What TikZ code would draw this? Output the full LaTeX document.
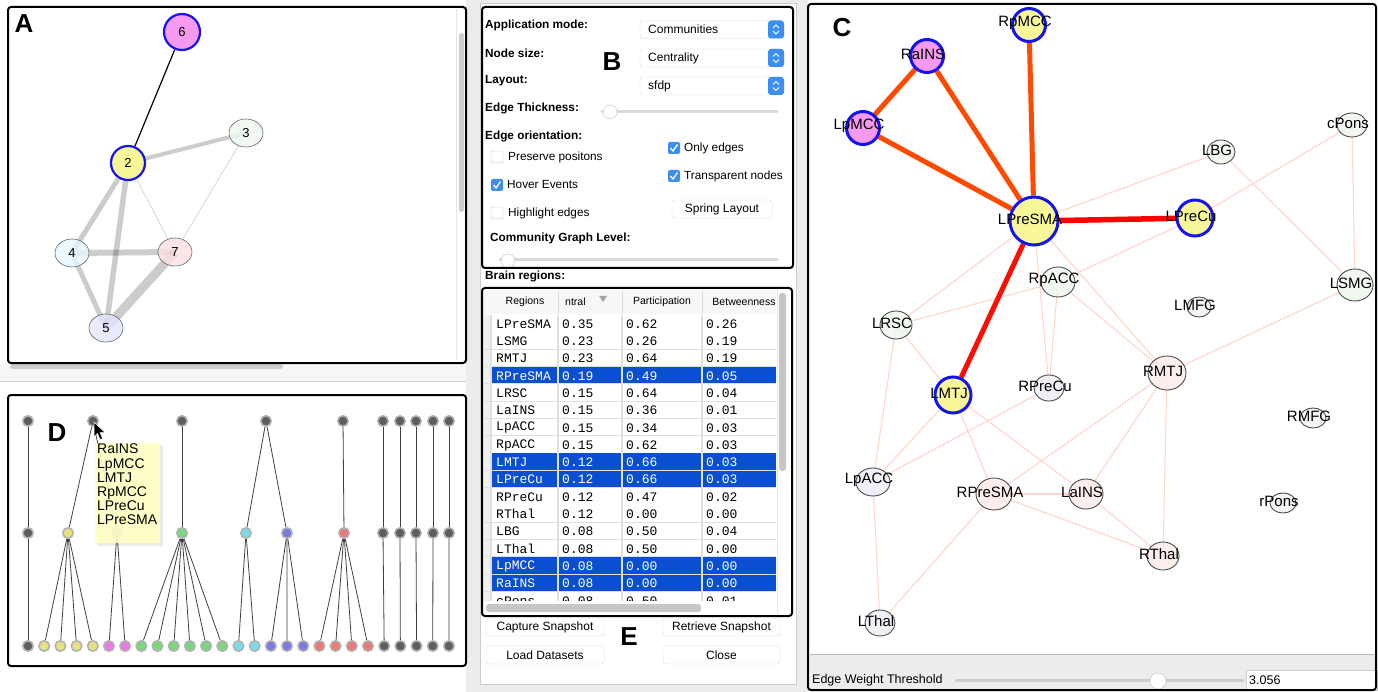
\documentclass[tikz,border=0pt]{standalone}
\usepackage{fontspec}
\setmainfont{Liberation Sans}
\newfontfamily\tablefont{Liberation Mono}
\usetikzlibrary{shapes.geometric,backgrounds}
\pgfdeclarelayer{edges}
\pgfsetlayers{background,edges,main}

\definecolor{panelgray}{HTML}{ECECEC}
\definecolor{selblue}{HTML}{0B4FD1}
\definecolor{uiblue}{HTML}{3C8EF0}
\definecolor{nodeblue}{HTML}{1414F0}
\definecolor{hlyellow}{HTML}{F7F79A}
\definecolor{hlpink}{HTML}{F59AF0}
\definecolor{weakedge}{HTML}{FFD6CC}
\definecolor{strongedge}{HTML}{FF4A00}
\definecolor{tipyellow}{HTML}{FFFFC4}
\definecolor{tintgreen}{HTML}{EEF7EE}
\definecolor{tintpink}{HTML}{FBECEA}
\definecolor{tintblue}{HTML}{EEEEF8}
\definecolor{tintgray}{HTML}{F2F2F2}
\definecolor{dgray}{HTML}{5E5E5E}
\definecolor{dyellow}{HTML}{E8E27A}
\definecolor{dpink}{HTML}{E77AE6}
\definecolor{dgreen}{HTML}{7AD77A}
\definecolor{dcyan}{HTML}{7ADDE6}
\definecolor{dblue}{HTML}{7A7AE6}
\definecolor{dred}{HTML}{E87A7A}

\tikzset{
  panel/.style={draw=black, line width=2pt, rounded corners=3pt},
  bigletter/.style={font=\fontsize{26}{26}\selectfont\bfseries, inner sep=0},
  lbl/.style={font=\fontsize{11.8}{13}\selectfont\bfseries, anchor=west, inner sep=0},
  opt/.style={font=\fontsize{11.8}{13}\selectfont, anchor=west, inner sep=0},
  btn/.style={draw=gray!30, fill=white, rounded corners=3pt, inner sep=0,
    minimum height=18pt, font=\fontsize{12}{14}\selectfont},
  knob/.style={circle, draw=gray!50, fill=white, minimum size=14pt, inner sep=0},
  hdr/.style={font=\fontsize{10.5}{12}\selectfont, inner sep=0},
  cell/.style={font=\tablefont\fontsize{13}{13}\selectfont, anchor=west, inner sep=0},
  anode/.style={ellipse, draw=black!60, line width=0.6pt, minimum width=34pt,
    minimum height=28pt, inner sep=0, fill opacity=0.8, text opacity=1,
    font=\fontsize{13}{13}\selectfont},
  hlnode/.style={circle, draw=nodeblue, line width=2.2pt, inner sep=0,
    font=\fontsize{13}{13}\selectfont},
  aedge/.style={draw=black, draw opacity=0.2},
  dnode/.style={circle, draw=gray!60, line width=1.6pt, minimum size=10.5pt, inner sep=0},
  region/.style={ellipse, draw=black!70, line width=0.9pt, inner sep=0, fill opacity=0.85},
  hub/.style={circle, draw=nodeblue, line width=3pt, inner sep=0},
  clabel/.style={font=\fontsize{15}{15}\selectfont, inner sep=0, text opacity=1,
    xshift=-4pt, yshift=2pt},
  weak/.style={draw=weakedge, line width=1.1pt},
  strong/.style={draw=strongedge, line width=5pt}
}

\begin{document}
\begin{tikzpicture}[x=1pt,y=-1pt]
\useasboundingbox (0,0) rectangle (1378,692);

% window background
\begin{pgfonlayer}{background}
\fill[white] (0,0) rectangle (1378,692);
\fill[panelgray] (466,0) rectangle (480,692);
\fill[panelgray] (796,0) rectangle (808,692);
\fill[panelgray] (480,0) rectangle (796,3);
\fill[panelgray] (480,684) rectangle (796,692);
\draw[gray!40] (480,3) rectangle (796,684);
\fill[gray!7] (0,364) rectangle (466,381);
\draw[gray!35] (0,381.5) -- (466,381.5);
\end{pgfonlayer}

% ---- A: community graph
\node[bigletter] (labA) at (24,24) {A};
\node[hlnode, fill=hlpink, minimum size=36pt] (a6) at (182,32) {6};
\node[hlnode, fill=hlyellow, minimum size=34pt] (a2) at (128,163) {2};
\node[anode, fill=tintgreen] (a3) at (246,133) {3};
\node[anode, fill=cyan!10] (a4) at (72,253) {4};
\node[anode, fill=red!12] (a7) at (175,252) {7};
\node[anode, fill=blue!10] (a5) at (106,328) {5};
\begin{pgfonlayer}{edges}
\draw[black, line width=1.2pt] (a6) -- (a2);
\draw[aedge, line width=4pt] (a2.center) -- (a3.center);
\draw[aedge, line width=0.6pt] (a2.center) -- (a7.center);
\draw[aedge, line width=0.6pt] (a3.center) -- (a7.center);
\draw[aedge, line width=5pt] (a2.center) -- (a4.center);
\draw[aedge, line width=5.5pt] (a2.center) -- (a5.center);
\draw[aedge, line width=6pt] (a4.center) -- (a7.center);
\draw[aedge, line width=5pt] (a4.center) -- (a5.center);
\draw[aedge, line width=9pt] (a7.center) -- (a5.center);
\end{pgfonlayer}
\draw[gray!20] (456,9) -- (456,360);
\fill[gray!40, rounded corners=2.5pt] (459,33) rectangle (464,212);
\fill[gray!40, rounded corners=2.5pt] (10,364) rectangle (283,369);
\draw[panel] (8,7) rectangle (466,363);

% ---- D: dendrogram
\node[bigletter] (labD) at (57,433) {D};
\foreach \x [count=\i] in {28,93,182,266,343,383,400,416,433,449}
  \node[dnode, fill=dgray] (t\i) at (\x,421) {};
\foreach \x/\c [count=\i] in {28/dgray,68/dyellow,117/dpink,182/dgreen,246/dcyan,287/dblue,
    344/dred,383/dgray,400/dgray,416/dgray,433/dgray,449/dgray}
  \node[dnode, fill=\c] (m\i) at (\x,533) {};
\foreach \c [count=\i] in {dgray,dyellow,dyellow,dyellow,dyellow,dpink,dpink,dgreen,dgreen,
    dgreen,dgreen,dgreen,dgreen,dcyan,dcyan,dblue,dblue,dblue,dred,dred,dred,dred,
    dgray,dgray,dgray,dgray,dgray}
  \node[dnode, fill=\c] (b\i) at ({28+16.19*(\i-1)},646) {};
\begin{pgfonlayer}{edges}
\foreach \a/\b in {t1/m1,t2/m2,t2/m3,t3/m4,t4/m5,t4/m6,t5/m7,t6/m8,t7/m9,t8/m10,t9/m11,t10/m12,
    m1/b1,m2/b2,m2/b3,m2/b4,m2/b5,m3/b6,m3/b7,m4/b8,m4/b9,m4/b10,m4/b11,m4/b12,m4/b13,
    m5/b14,m5/b15,m6/b16,m6/b17,m6/b18,m7/b19,m7/b20,m7/b21,m7/b22,
    m8/b23,m9/b24,m10/b25,m11/b26,m12/b27}
  \draw[black!75, line width=0.8pt] (\a) -- (\b);
\end{pgfonlayer}
% tooltip and pointer
\fill[black, opacity=0.08] (97,445) rectangle (163,546);
\fill[tipyellow, fill opacity=0.9] (95,443) rectangle (160,543);
\node[anchor=north west, align=left, inner sep=0, font=\fontsize{14}{14.2}\selectfont]
  (tip) at (97,444) {RaINS\\LpMCC\\LMTJ\\RpMCC\\LPreCu\\LPreSMA};
\filldraw[fill=black, draw=white, line width=0.5pt] (94,422) -- (94,437) -- (97.5,433.5)
  -- (100,439.5) -- (102.5,438.5) -- (100,432.5) -- (105,432.5) -- cycle;
\draw[panel] (8,395) rectangle (466,666);

% ---- B: options
\node[lbl] (modelbl) at (485,25) {Application mode:};
\node[lbl] (sizelbl) at (485,53) {Node size:};
\node[lbl] (layoutlbl) at (485,81) {Layout:};
\node[lbl] (thicklbl) at (485,108) {Edge Thickness:};
\node[lbl] (orientlbl) at (485,136) {Edge orientation:};
\node[lbl] (levellbl) at (490,238) {Community Graph Level:};
\node[bigletter] (labB) at (612,62) {B};
\foreach \y/\t/\n in {29.5/Communities/modebox, 58/Centrality/sizebox, 86/sfdp/layoutbox}{
  \draw[gray!30, fill=white, rounded corners=3pt] (640,\y-9) rectangle (784,\y+9);
  \fill[uiblue, rounded corners=3pt] (768,\y-9) rectangle (784,\y+9);
  \draw[white, line width=0.9pt] (773,\y-1.5) -- (776,\y-4.5) -- (779,\y-1.5)
    (773,\y+1.5) -- (776,\y+4.5) -- (779,\y+1.5);
  \node[opt, font=\fontsize{12}{14}\selectfont] (\n) at (648,\y) {\t};
}
\draw[gray!30, line width=3pt, line cap=round] (602,112) -- (777,112);
\node[knob] (thickknob) at (610,112) {};
\draw[gray!30, line width=3pt, line cap=round] (500,260) -- (777,260);
\node[knob] (levelknob) at (508,261) {};
\foreach \x/\y/\t/\n in {497/157/Preserve positons/preserve, 497/213/Highlight edges/highlight}{
  \draw[gray!50, fill=white, rounded corners=2pt] (\x-6,\y-6) rectangle (\x+6,\y+6);
  \node[opt] (\n) at (\x+11,\y) {\t};
}
\foreach \x/\y/\t/\n in {497/185/Hover Events/hover, 674/148/Only edges/onlyedges,
    674/176/Transparent nodes/transparent}{
  \fill[uiblue, rounded corners=2pt] (\x-6,\y-6) rectangle (\x+6,\y+6);
  \draw[white, line width=1.3pt] (\x-3.5,\y) -- (\x-1,\y+3) -- (\x+3.5,\y-3.5);
  \node[opt] (\n) at (\x+10,\y) {\t};
}
\node[btn, minimum width=100pt] (spring) at (722,209) {Spring Layout};
\draw[panel] (482,7) rectangle (793,268);

% ---- table of brain regions
\node[lbl] (regionslbl) at (485,276) {Brain regions:};
\fill[gray!6] (484,290) rectangle (776,314);
\foreach \x in {558,622,702} \draw[gray!30] (\x,291) -- (\x,314);
\node[hdr] (hregions) at (525,302) {Regions};
\node[hdr, anchor=west] (hcentral) at (565,302) {ntral};
\fill[gray!70] (599,296) -- (607,296) -- (603,302) -- cycle;
\node[hdr] (hpart) at (662,302) {Participation};
\node[hdr] (hbetw) at (744,302) {Betweenness};
\begin{scope}
\clip (484,314) rectangle (776,600);
\foreach \r/\a/\b/\c/\s [count=\i from 0] in {LPreSMA/0.35/0.62/0.26/0, LSMG/0.23/0.26/0.19/0,
    RMTJ/0.23/0.64/0.19/0, RPreSMA/0.19/0.49/0.05/1, LRSC/0.15/0.64/0.04/0,
    LaINS/0.15/0.36/0.01/0, LpACC/0.15/0.34/0.03/0, RpACC/0.15/0.62/0.03/0,
    LMTJ/0.12/0.66/0.03/1, LPreCu/0.12/0.66/0.03/1, RPreCu/0.12/0.47/0.02/0,
    RThal/0.12/0.00/0.00/0, LBG/0.08/0.50/0.04/0, LThal/0.08/0.50/0.00/0,
    LpMCC/0.08/0.00/0.00/1, RaINS/0.08/0.00/0.00/1, cPons/0.08/0.50/0.01/0}{
  \pgfmathsetmacro{\ytop}{315+17.3*\i}
  \ifnum\s=1 \def\rowfill{selblue}\def\rowtext{white}\else\def\rowfill{white}\def\rowtext{black}\fi
  \fill[\rowfill] (491,\ytop) rectangle (776,\ytop+17.3);
  \fill[gray!12] (484,\ytop) rectangle (491,\ytop+17.3);
  \draw[gray!25, line width=1.5pt] (484,\ytop+17.3) -- (776,\ytop+17.3);
  \foreach \x in {491,558,622,702} \draw[gray!25, line width=1.5pt] (\x,\ytop) -- (\x,\ytop+17.3);
  \node[cell, text=\rowtext] (reg\i) at (496,\ytop+9) {\r};
  \node[cell, text=\rowtext] (cen\i) at (562,\ytop+9) {\a};
  \node[cell, text=\rowtext] (par\i) at (626,\ytop+9) {\b};
  \node[cell, text=\rowtext] (bet\i) at (706,\ytop+9) {\c};
}
\end{scope}
\draw[gray!20] (777,290) -- (777,614);
\fill[gray!45, rounded corners=3pt] (779,293) rectangle (786,471);
\fill[gray!45, rounded corners=3pt] (486,604) rectangle (701,612);
\draw[panel] (482,288) rectangle (792,616);

% ---- E: buttons
\node[btn, minimum width=118pt] (capture) at (545,627) {Capture Snapshot};
\node[btn, minimum width=117pt] (retrieve) at (721.5,627) {Retrieve Snapshot};
\node[btn, minimum width=118pt] (load) at (545,655) {Load Datasets};
\node[btn, minimum width=117pt] (close) at (721.5,655) {Close};
\node[bigletter] (labE) at (629,637) {E};

% ---- C: brain network
\node[bigletter] (labC) at (842,28) {C};
\node[hub, fill=hlyellow, minimum size=33pt, label={[clabel]center:RpMCC}] (RpMCC) at (1029,25) {};
\node[hub, fill=hlpink, minimum size=33pt, label={[clabel]center:RaINS}] (RaINS) at (927,56) {};
\node[hub, fill=hlpink, minimum size=33pt, label={[clabel]center:LpMCC}] (LpMCC) at (863,128) {};
\node[hub, fill=hlyellow, minimum size=48pt, label={[clabel]center:LPreSMA}] (LPreSMA) at (1034,221) {};
\node[hub, fill=hlyellow, minimum size=36pt, label={[clabel]center:LPreCu}] (LPreCu) at (1195,218) {};
\node[hub, fill=hlyellow, minimum size=36pt, label={[clabel]center:LMTJ}] (LMTJ) at (953,395) {};
\foreach \n/\x/\y/\w/\h/\c in {LBG/1221/152/28/24/tintgreen, cPons/1352/125/30/24/tintgreen,
    LSMG/1355/285/36/32/tintgreen, RpACC/1058/282/34/30/tintgreen, LMFG/1199/307/24/20/tintgray,
    LRSC/896/325/32/28/tintgreen, RMTJ/1167/373/38/34/tintpink, RPreCu/1049/388/30/26/tintblue,
    RMFG/1313/418/26/20/tintgray, LpACC/873/482/34/28/tintblue, RPreSMA/994/494/36/32/tintpink,
    LaINS/1086/494/34/30/tintpink, rPons/1283/503/26/20/tintgray, RThal/1163/556/32/28/tintpink,
    LThal/880/623/30/26/tintblue}
  \node[region, minimum width=\w, minimum height=\h, fill=\c, label={[clabel]center:\n}] (\n) at (\x,\y) {};
\begin{pgfonlayer}{edges}
\foreach \a/\b in {LPreSMA/LBG, LPreSMA/LRSC, LPreSMA/RPreCu, LPreSMA/RMTJ, LPreCu/cPons,
    LPreCu/RpACC, RpACC/LRSC, RpACC/RPreCu, RpACC/RMTJ, LBG/LSMG, cPons/LSMG, LSMG/RMTJ,
    LRSC/LpACC, LRSC/LMTJ, LMTJ/LpACC, LMTJ/RPreSMA, LMTJ/LaINS, RPreCu/LpACC,
    RMTJ/RPreSMA, RMTJ/LaINS, RMTJ/RThal, RPreSMA/LaINS, RPreSMA/RThal, LaINS/RThal,
    RPreSMA/LThal, LpACC/LThal}
  \draw[weak] (\a.center) -- (\b.center);
\draw[strong] (LpMCC) -- (RaINS);
\draw[strong] (RaINS) -- (LPreSMA);
\draw[strong] (LpMCC) -- (LPreSMA);
\draw[strong] (RpMCC) -- (LPreSMA);
\draw[strong, draw=red, line width=5.5pt] (LPreSMA) -- (LPreCu);
\draw[strong, draw=red!90!orange] (LPreSMA) -- (LMTJ);
\end{pgfonlayer}
% threshold bar
\fill[panelgray] (810,655) rectangle (1375,689);
\draw[gray!55] (810,654.5) -- (1375,654.5);
\node[opt, font=\fontsize{12.5}{14}\selectfont] (threshlbl) at (812,680) {Edge Weight Threshold};
\draw[gray!40, line width=3pt, line cap=round] (956,680) -- (1243,680);
\node[knob, minimum size=16pt] (threshknob) at (1158,681) {};
\node[draw=gray!40, fill=white, minimum width=131pt, minimum height=20pt, anchor=west, inner sep=0]
  (threshbox) at (1246,680) {};
\node[opt, font=\fontsize{12.5}{14}\selectfont] (threshval) at (1249,680) {3.056};
\draw[panel] (808,4) rectangle (1376,690);
\end{tikzpicture}
\end{document}
